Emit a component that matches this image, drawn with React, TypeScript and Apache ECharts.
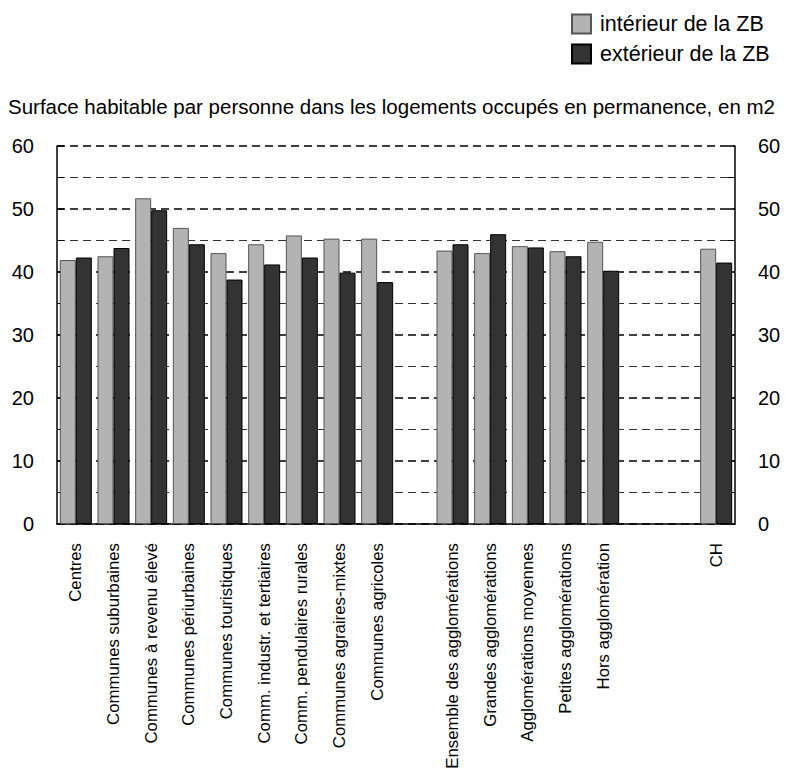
import React, { useEffect, useRef } from "react";
import * as echarts from "echarts";

const categories = [
  "Centres",
  "Communes suburbaines",
  "Communes à revenu élevé",
  "Communes périurbaines",
  "Communes touristiques",
  "Comm. industr. et tertiaires",
  "Comm. pendulaires rurales",
  "Communes agraires-mixtes",
  "Communes agricoles",
  "",
  "Ensemble des agglomérations",
  "Grandes agglomérations",
  "Agglomérations moyennes",
  "Petites agglomérations",
  "Hors agglomération",
  " ",
  "  ",
  "CH",
];

const interieur = [41.9, 42.5, 51.7, 47.0, 43.0, 44.4, 45.8, 45.3, 45.3, null, 43.4, 43.0, 44.1, 43.3, 44.8, null, null, 43.7];
const exterieur = [42.3, 43.8, 49.8, 44.4, 38.8, 41.2, 42.3, 39.9, 38.4, null, 44.4, 46.0, 43.9, 42.5, 40.2, null, null, 41.5];

const seriesNames = ["intérieur de la ZB", "extérieur de la ZB"];
const title = "Surface habitable par personne dans les logements occupés en permanence, en m2";

const FONT = "'Liberation Sans', Arial, sans-serif";

export default function App() {
  const ref = useRef<HTMLDivElement>(null);
  useEffect(() => {
    if (!ref.current) return;
    const chart = echarts.init(ref.current, null, { renderer: "svg" });
    const yAxisCommon = {
      type: "value",
      min: 0,
      max: 60,
      interval: 10,
      axisLine: { show: true, lineStyle: { color: "#000", width: 1.5 } },
      axisTick: { show: true, inside: true, length: 7, lineStyle: { color: "#000", width: 1.5 } },
      minorTick: { show: true, splitNumber: 2, length: 7, lineStyle: { color: "#000", width: 1 } },
      axisLabel: { color: "#000", fontSize: 20, fontFamily: FONT, margin: 23 },
    };
    chart.setOption({
      animation: false,
      textStyle: { fontFamily: FONT },
      title: {
        text: title,
        left: 8,
        top: 96,
        padding: 0,
        textStyle: { fontSize: 20.5, fontWeight: "normal", color: "#000", fontFamily: FONT },
      },
      legend: {
        orient: "vertical",
        left: 571,
        top: 13,
        padding: 0,
        itemWidth: 19,
        itemHeight: 19,
        itemGap: 8,
        icon: "rect",
        textStyle: { fontSize: 21.5, color: "#000", fontFamily: FONT, padding: [0, 0, 0, 4] },
        data: seriesNames,
      },
      grid: { left: 57, right: 51, top: 146, bottom: 250, containLabel: false },
      xAxis: {
        type: "category",
        data: categories,
        axisLine: { show: true, lineStyle: { color: "#000", width: 1.5 } },
        axisTick: { show: false },
        axisLabel: {
          rotate: 90,
          interval: 0,
          color: "#000",
          fontSize: 16.8,
          fontFamily: FONT,
          margin: 19,
        },
      },
      yAxis: [
        {
          ...yAxisCommon,
          position: "left",
          splitLine: { show: true, lineStyle: { color: "#000", width: 1.5, type: [8, 5] } },
          minorSplitLine: { show: true, lineStyle: { color: "#333", width: 1, type: [8, 5] } },
        },
        {
          ...yAxisCommon,
          position: "right",
          splitLine: { show: false },
          minorSplitLine: { show: false },
        },
      ],
      series: [
        {
          name: seriesNames[0],
          type: "bar",
          data: interieur,
          barWidth: 16,
          barGap: "0%",
          itemStyle: { color: "#b3b3b3", borderColor: "#555", borderWidth: 1 },
        },
        {
          name: seriesNames[1],
          type: "bar",
          data: exterieur,
          barWidth: 16,
          barGap: "0%",
          itemStyle: { color: "#333333", borderColor: "#000", borderWidth: 1 },
        },
      ],
    });
    return () => chart.dispose();
  }, []);
  return <div ref={ref} style={{ position: "absolute", left: 0, top: 0, width: 786, height: 774 }} />;
}
